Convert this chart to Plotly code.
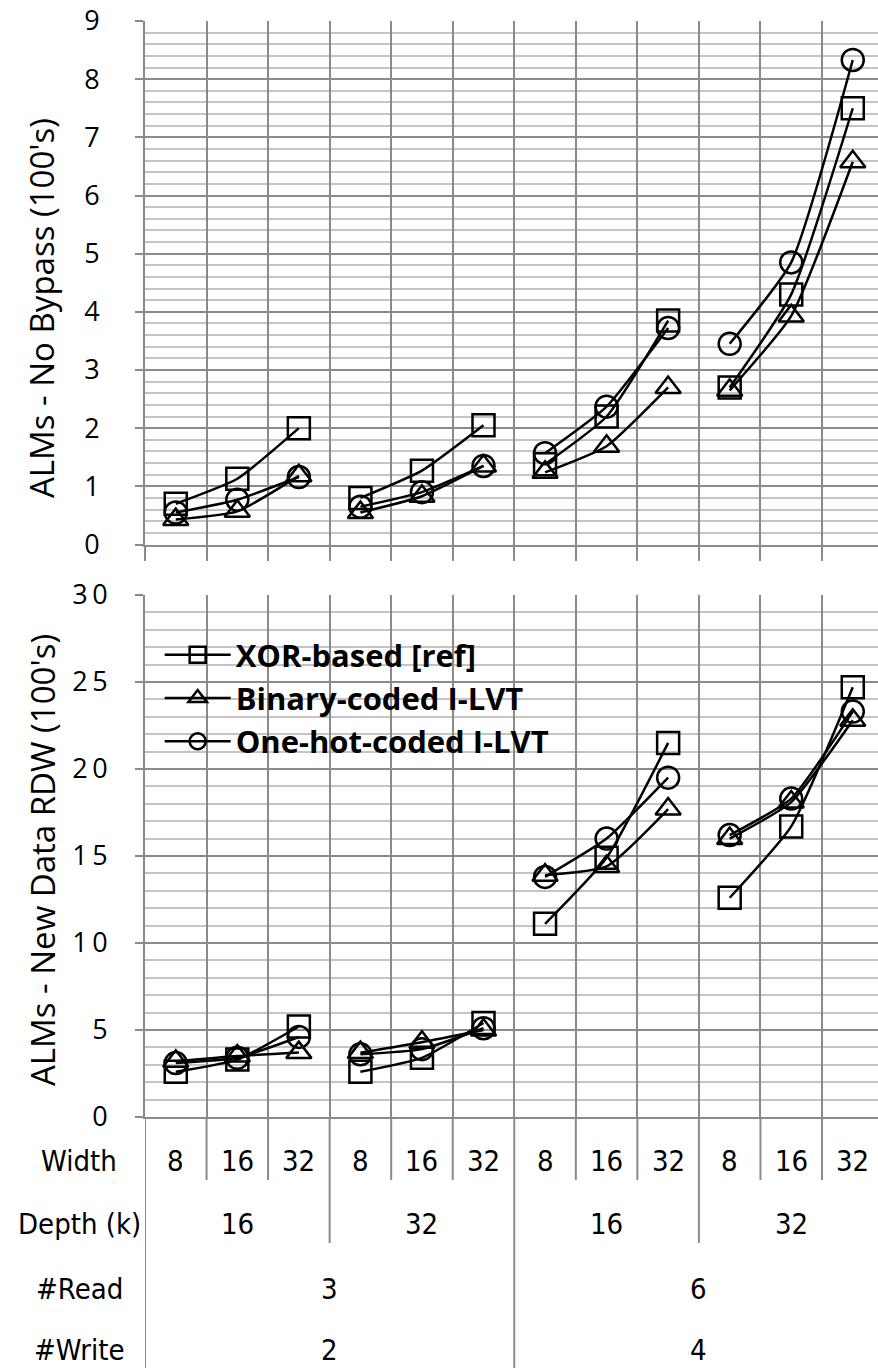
import plotly.graph_objects as go

# ---------------- data ----------------
width_labels = ["8", "16", "32", "8", "16", "32", "8", "16", "32", "8", "16", "32"]
depth_labels = ["16", "32", "16", "32"]
read_labels = ["3", "6"]
write_labels = ["2", "4"]
row_titles = ["Width", "Depth (k)", "#Read", "#Write"]

series_names = ["XOR-based [ref]", "Binary-coded I-LVT", "One-hot-coded I-LVT"]

# ALMs - No Bypass (100's)
nobypass_xor = [0.70, 1.13, 2.00, 0.80, 1.27, 2.05, 1.38, 2.20, 3.85, 2.70, 4.30, 7.50]
nobypass_bin = [0.43, 0.57, 1.18, 0.55, 0.83, 1.35, 1.24, 1.69, 2.70, 2.65, 3.93, 6.58]
nobypass_one = [0.55, 0.77, 1.16, 0.65, 0.90, 1.35, 1.57, 2.37, 3.72, 3.45, 4.85, 8.33]

# ALMs - New Data RDW (100's)
rdw_xor = [2.6, 3.3, 5.2, 2.6, 3.4, 5.4, 11.1, 14.9, 21.5, 12.6, 16.7, 24.7]
rdw_bin = [3.2, 3.5, 3.7, 3.7, 4.3, 5.0, 13.9, 14.4, 17.7, 16.0, 18.1, 22.8]
rdw_one = [3.1, 3.4, 4.6, 3.6, 3.9, 5.1, 13.8, 16.0, 19.5, 16.2, 18.3, 23.3]

top_ticks = [0, 1, 2, 3, 4, 5, 6, 7, 8, 9]
bottom_ticks = [0, 5, 10, 15, 20, 25, 30]
bottom_ticktext = ["0", "5", "1\u20090", "1\u20095", "2\u20090", "2\u20095", "3\u20090"]

symbols = ["square-open", "triangle-up-open", "circle-open"]

# ---------------- geometry helpers ----------------
W, H = 878, 1368
M_L, M_T, M_B = 145, 21, 251
PLOT_H = H - M_T - M_B            # 1096
Y_BOT = H - M_B                   # pixel of paper y=0


def fy(py):
    return (Y_BOT - py) / PLOT_H


n = len(width_labels)
group = 3


def gapped(vals):
    xs, ys = [], []
    for i, v in enumerate(vals):
        xs.append(i)
        ys.append(v)
        if (i + 1) % group == 0 and i + 1 < n:
            xs.append(None)
            ys.append(None)
    return xs, ys


fig = go.Figure()
top_series = [nobypass_xor, nobypass_bin, nobypass_one]
bot_series = [rdw_xor, rdw_bin, rdw_one]

for k in range(3):
    xs, ys = gapped(top_series[k])
    fig.add_trace(go.Scatter(
        x=xs, y=ys, xaxis="x", yaxis="y", mode="lines+markers",
        name=series_names[k], showlegend=False, connectgaps=False,
        line=dict(color="black", width=2.5, shape="spline", smoothing=0.5),
        marker=dict(symbol=symbols[k], size=22, color="black",
                    line=dict(width=2.5, color="black")),
    ))
for k in range(3):
    xs, ys = gapped(bot_series[k])
    fig.add_trace(go.Scatter(
        x=xs, y=ys, xaxis="x2", yaxis="y2", mode="lines+markers",
        name=series_names[k], showlegend=True, connectgaps=False,
        line=dict(color="black", width=2.5, shape="spline", smoothing=0.5),
        marker=dict(symbol=symbols[k], size=22, color="black",
                    line=dict(width=2.5, color="black")),
    ))

MAJOR = "#8a8a8a"
MINOR = "#c4c4c4"
x_right = (W - M_L) / ((822 - 145) / 11) - 0.5

xcommon = dict(range=[-0.5, x_right], tick0=-0.5, dtick=1, showgrid=True,
               gridcolor=MAJOR, gridwidth=2, showticklabels=False,
               zeroline=False, showline=True, linecolor=MAJOR, linewidth=2)

tick_font = dict(family="Open Sans, sans-serif", size=27, color="black")

fig.update_layout(
    width=W, height=H,
    margin=dict(l=M_L, r=0, t=M_T, b=M_B),
    paper_bgcolor="white", plot_bgcolor="white",
    xaxis=dict(domain=[0, 1], anchor="y", ticks="outside", ticklen=14,
               tickwidth=2, tickcolor=MAJOR, **xcommon),
    xaxis2=dict(domain=[0, 1], anchor="y2", ticks="", **xcommon),
    yaxis=dict(domain=[fy(544.5), 1], anchor="x", range=[0, 9],
               tickvals=top_ticks, ticks="outside", ticklen=8, tickwidth=2,
               tickcolor=MAJOR, showgrid=True, gridcolor=MAJOR, gridwidth=2,
               minor=dict(dtick=0.2, showgrid=True, gridcolor=MINOR, gridwidth=2),
               zeroline=False, showline=True, linecolor=MAJOR, linewidth=2,
               tickfont=tick_font, ticklabelstandoff=30),
    yaxis2=dict(domain=[0, fy(595)], anchor="x2", range=[0, 30],
                tickvals=bottom_ticks, ticktext=bottom_ticktext,
                ticks="outside", ticklen=8, tickwidth=2, tickcolor=MAJOR,
                showgrid=True, gridcolor=MAJOR, gridwidth=2,
                minor=dict(dtick=1, showgrid=True, gridcolor=MINOR, gridwidth=2),
                zeroline=False, showline=True, linecolor=MAJOR, linewidth=2,
                tickfont=tick_font, ticklabelstandoff=22),
    legend=dict(x=0.02, y=fy(628), xanchor="left", yanchor="top",
                bgcolor="rgba(0,0,0,0)", itemwidth=66,
                font=dict(family="Open Sans, sans-serif", size=31, color="black",
                          weight="bold"),
                tracegroupgap=0),
    showlegend=True,
)

# y-axis titles
fig.add_annotation(text="ALMs - No Bypass (100's)", textangle=-90,
                   xref="paper", yref="paper", x=(42 - M_L) / (W - M_L),
                   y=fy(308), xanchor="center", yanchor="middle", showarrow=False,
                   font=dict(family="Open Sans, sans-serif", size=33, color="black"))
fig.add_annotation(text="ALMs - New Data RDW (100's)", textangle=-90,
                   xref="paper", yref="paper", x=(42 - M_L) / (W - M_L),
                   y=fy(860), xanchor="center", yanchor="middle", showarrow=False,
                   font=dict(family="Open Sans, sans-serif", size=33, color="black"))

# ---------------- category table below bottom chart ----------------
table_font = dict(family="Liberation Sans Narrow, DejaVu Sans Condensed, sans-serif",
                  size=29, color="black")
row_y = [1161, 1224, 1289, 1350]
line_kw = dict(color=MAJOR, width=2)

# width-level separators
for i in range(n):
    b = i - 0.5
    if i % 3 == 0 and i % 6 != 0:
        y_end = 1243
    elif i % 6 == 0:
        y_end = H
    else:
        y_end = 1180
    fig.add_shape(type="line", xref="x2", yref="paper", x0=b, x1=b,
                  y0=fy(Y_BOT), y1=fy(y_end), line=line_kw)

for i, lab in enumerate(width_labels):
    fig.add_annotation(text=lab, xref="x2", yref="paper", x=i, y=fy(row_y[0]),
                       showarrow=False, font=table_font, xanchor="center",
                       yanchor="middle")
for j, lab in enumerate(depth_labels):
    fig.add_annotation(text=lab, xref="x2", yref="paper", x=j * 3 + 1,
                       y=fy(row_y[1]), showarrow=False, font=table_font,
                       xanchor="center", yanchor="middle")
for j, lab in enumerate(read_labels):
    fig.add_annotation(text=lab, xref="x2", yref="paper", x=j * 6 + 2.5,
                       y=fy(row_y[2]), showarrow=False, font=table_font,
                       xanchor="center", yanchor="middle")
for j, lab in enumerate(write_labels):
    fig.add_annotation(text=lab, xref="x2", yref="paper", x=j * 6 + 2.5,
                       y=fy(row_y[3]), showarrow=False, font=table_font,
                       xanchor="center", yanchor="middle")
for r, lab in enumerate(row_titles):
    fig.add_annotation(text=lab, xref="paper", yref="paper",
                       x=(79 - M_L) / (W - M_L), y=fy(row_y[r]), showarrow=False,
                       font=table_font, xanchor="center", yanchor="middle")

fig.write_html("out.html")
